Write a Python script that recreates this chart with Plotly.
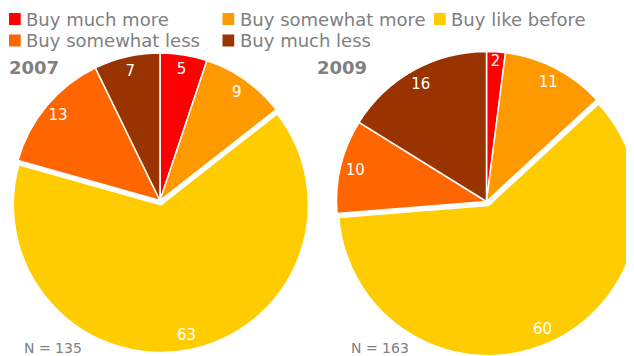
import plotly.graph_objects as go

categories = ["Buy much more", "Buy somewhat more", "Buy like before",
              "Buy somewhat less", "Buy much less"]
values_2007 = [5, 9, 63, 13, 7]
values_2009 = [2, 11, 60, 10, 16]
years = ["2007", "2009"]
n_labels = ["N = 135", "N = 163"]
colors = ["#FF0000", "#FF9900", "#FFCC00", "#FF6600", "#993300"]

W, H = 634, 356
FONT = "DejaVu Sans, Verdana, sans-serif"
GRAY = "#808080"
pulls = [0, 0, 0.03, 0, 0]

# the page body adds an 8px offset; positions below are in figure pixels
def px(x):
    return x / W


def py(y):  # y measured from the top of the figure
    return (H - y) / H


domains = [
    dict(x=[0, px(304)], y=[8 / H, 319 / H]),
    dict(x=[px(324), px(633)], y=[8 / H, 317 / H]),
]

fig = go.Figure()
for i, vals in enumerate([values_2007, values_2009]):
    fig.add_trace(go.Pie(
        labels=categories, values=vals, sort=False, direction="clockwise",
        rotation=0, domain=domains[i], pull=pulls,
        marker=dict(colors=colors, line=dict(color="white", width=1.5)),
        textinfo="none", showlegend=False, hoverinfo="label+value",
        name=years[i],
    ))
    # value labels near the outer edge (transparent ring on top)
    fig.add_trace(go.Pie(
        labels=categories, values=vals, sort=False, direction="clockwise",
        rotation=0, domain=domains[i], pull=pulls, hole=0.8,
        marker=dict(colors=["rgba(0,0,0,0)"] * 5, line=dict(width=0)),
        textinfo="value", textposition="inside",
        insidetextorientation="horizontal",
        insidetextfont=dict(family=FONT, size=15, color="white"),
        showlegend=False, hoverinfo="skip",
    ))

annotations = []
shapes = []
# legend (two rows, three columns)
col_sq = [1, 214.5, 426]
row_y = [11, 32.5]
for i, (cat, col) in enumerate(zip(categories, colors)):
    r, c = divmod(i, 3)
    x0 = col_sq[c]
    yc = row_y[r]
    shapes.append(dict(type="rect", xref="paper", yref="paper",
                       x0=px(x0), x1=px(x0 + 11.7), y0=py(yc - 6), y1=py(yc + 6),
                       fillcolor=col, line=dict(width=0)))
    annotations.append(dict(
        text=cat, x=px(x0 + 17), y=py(yc), xref="paper", yref="paper",
        xanchor="left", yanchor="middle", showarrow=False,
        borderpad=0, borderwidth=0,
        font=dict(family=FONT, size=18, color=GRAY)))

for x0, yr in zip([1, 309], years):
    annotations.append(dict(
        text="<b>%s</b>" % yr, x=px(x0), y=py(59), xref="paper", yref="paper",
        xanchor="left", yanchor="middle", showarrow=False,
        borderpad=0, borderwidth=0,
        font=dict(family=FONT, size=18, color=GRAY)))
for x0, nl in zip([16, 343], n_labels):
    annotations.append(dict(
        text=nl, x=px(x0), y=py(340), xref="paper", yref="paper",
        xanchor="left", yanchor="middle", showarrow=False,
        borderpad=0, borderwidth=0,
        font=dict(family=FONT, size=14, color=GRAY)))

fig.update_layout(
    width=W, height=H, margin=dict(l=0, r=0, t=0, b=0, autoexpand=False),
    paper_bgcolor="white", plot_bgcolor="white",
    uniformtext=dict(minsize=15, mode="show"),
    showlegend=False,
    annotations=annotations,
    shapes=shapes,
)

fig.write_html("out.html")
